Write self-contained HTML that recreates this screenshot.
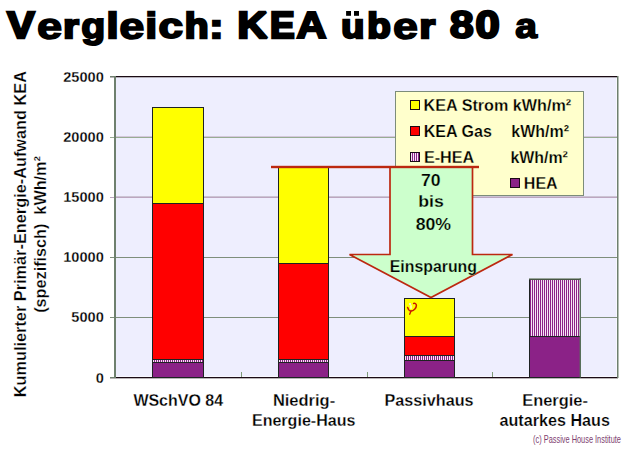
<!DOCTYPE html>
<html><head><meta charset="utf-8"><title>Vergleich: KEA über 80 a</title>
<style>html,body{margin:0;padding:0;background:#fff;width:629px;height:450px;overflow:hidden}
text{font-family:"Liberation Sans", sans-serif}</style></head>
<body><svg width="629" height="450" viewBox="0 0 629 450" style="display:block;font-family:'Liberation Sans', sans-serif"><defs>
<pattern id="vs" patternUnits="userSpaceOnUse" x="0" y="0" width="2" height="4">
<rect width="2" height="4" fill="#F6E6F4"/><rect width="1" height="4" fill="#8B2287"/>
</pattern>
</defs><rect x="115" y="76" width="503" height="302" fill="#EEEEFE"/>
<rect x="116" y="77" width="500" height="1" fill="#F8F8FF"/>
<rect x="116" y="376" width="500" height="1" fill="#F8F8FF"/>
<rect x="616" y="77" width="1" height="300" fill="#F8F8FF"/>
<rect x="110" y="137" width="507" height="1" fill="#98AC94"/>
<rect x="110" y="197" width="507" height="1" fill="#BCA6C0"/>
<rect x="110" y="257" width="507" height="1" fill="#7E8E7C"/>
<rect x="110" y="317" width="507" height="1" fill="#7E8E7C"/>
<rect x="116" y="136" width="501" height="1" fill="#D4C8DC"/>
<rect x="116" y="196" width="501" height="1" fill="#CCC4D4"/>
<rect x="110" y="76" width="508" height="1.3" fill="#1A0A14"/>
<rect x="110" y="377" width="508" height="1.3" fill="#1A0A14"/>
<rect x="110" y="76" width="4" height="1" fill="#6E806E"/>
<rect x="110" y="377" width="4" height="1" fill="#6E806E"/>
<rect x="114" y="76" width="2" height="302" fill="#6E806E"/>
<rect x="617" y="76" width="1.5" height="302" fill="#6E806E"/>
<rect x="241" y="372" width="1" height="5" fill="#7E9A78"/>
<rect x="367" y="372" width="1" height="5" fill="#7E9A78"/>
<rect x="492" y="372" width="1" height="5" fill="#7E9A78"/>
<rect x="152" y="107" width="52" height="97" fill="#FFFF00"/>
<rect x="152" y="203" width="52" height="157" fill="#FF0000"/>
<rect x="152" y="359" width="52" height="4" fill="url(#vs)"/>
<rect x="152" y="362" width="52" height="16" fill="#8B2287"/>
<rect x="152.5" y="107.5" width="51" height="270" fill="none" stroke="#1E2222" stroke-width="1"/>
<rect x="152" y="203" width="52" height="1" fill="#1E2222"/>
<rect x="152" y="359" width="52" height="1" fill="#1E2222"/>
<rect x="152" y="362" width="52" height="1" fill="#1E2222"/>
<rect x="278" y="167" width="51" height="97" fill="#FFFF00"/>
<rect x="278" y="263" width="51" height="97" fill="#FF0000"/>
<rect x="278" y="359" width="51" height="4" fill="url(#vs)"/>
<rect x="278" y="362" width="51" height="16" fill="#8B2287"/>
<rect x="278.5" y="167.5" width="50" height="210" fill="none" stroke="#1E2222" stroke-width="1"/>
<rect x="278" y="263" width="51" height="1" fill="#1E2222"/>
<rect x="278" y="359" width="51" height="1" fill="#1E2222"/>
<rect x="278" y="362" width="51" height="1" fill="#1E2222"/>
<rect x="404" y="298" width="51" height="39" fill="#FFFF00"/>
<rect x="404" y="336" width="51" height="20" fill="#FF0000"/>
<rect x="404" y="355" width="51" height="6" fill="url(#vs)"/>
<rect x="404" y="360" width="51" height="18" fill="#8B2287"/>
<rect x="404.5" y="298.5" width="50" height="79" fill="none" stroke="#1E2222" stroke-width="1"/>
<rect x="404" y="336" width="51" height="1" fill="#1E2222"/>
<rect x="404" y="355" width="51" height="1" fill="#1E2222"/>
<rect x="404" y="360" width="51" height="1" fill="#1E2222"/>
<rect x="529" y="279" width="52" height="58" fill="url(#vs)"/>
<rect x="529" y="336" width="52" height="42" fill="#8B2287"/>
<rect x="529.5" y="279.5" width="51" height="98" fill="none" stroke="#1E2222" stroke-width="1"/>
<rect x="529" y="336" width="52" height="1" fill="#1E2222"/>
<rect x="529" y="278.4" width="52" height="1.2" fill="#64785E"/>
<rect x="579.6" y="278.4" width="1.4" height="99" fill="#58705A"/>
<g fill="none" stroke="#C81800" stroke-linecap="round"><path d="M407.6,307.4 C408.2,309.6 409.4,311 411,311 C413.6,311 416.4,308.2 416.4,305.6 C416.4,303.9 415.2,303.1 413.6,303.4" stroke-width="1.5"/><path d="M410.9,311.2 L409.7,314.2" stroke-width="1.4"/></g><ellipse cx="410" cy="304.1" rx="1.1" ry="1" fill="#F4F0E8"/><ellipse cx="411" cy="307" rx="1.1" ry="2.2" fill="#FFFF9A"/>
<rect x="395.5" y="91.5" width="188" height="104" fill="#FFFFCC" stroke="#7C8C7A" stroke-width="1"/>
<rect x="410.5" y="100.5" width="9" height="9" fill="#FFFF00" stroke="#1A0A14" stroke-width="1"/>
<rect x="410.5" y="126.5" width="9" height="9" fill="#FF0000" stroke="#1A0A14" stroke-width="1"/>
<rect x="410.5" y="152.5" width="9" height="9" fill="url(#vs)" stroke="#1A0A14" stroke-width="1"/>
<rect x="510.5" y="178.5" width="9" height="9" fill="#8B2287" stroke="#1A0A14" stroke-width="1"/>
<text transform="translate(423.62,110.5) scale(1.0106,1)" font-size="16" font-weight="bold" fill="#000" stroke="#FFFFCC" stroke-width="0.25">KEA Strom kWh/m²</text>
<text transform="translate(423.72,136.5) scale(1.0054,1)" font-size="16" font-weight="bold" fill="#000" stroke="#FFFFCC" stroke-width="0.25">KEA Gas</text>
<text transform="translate(423.92,162.5) scale(1.0106,1)" font-size="16" font-weight="bold" fill="#000" stroke="#FFFFCC" stroke-width="0.25">E-HEA</text>
<text transform="translate(523.83,188.5) scale(1.0003,1)" font-size="16" font-weight="bold" fill="#000" stroke="#FFFFCC" stroke-width="0.25">HEA</text>
<text transform="translate(511.28,136.5) scale(0.9996,1)" font-size="16" font-weight="bold" fill="#000" stroke="#FFFFCC" stroke-width="0.25">kWh/m²</text>
<text transform="translate(510.39,162.5) scale(0.9961,1)" font-size="16" font-weight="bold" fill="#000" stroke="#FFFFCC" stroke-width="0.25">kWh/m²</text>
<polygon points="390,167 472.5,167 472.5,254.5 512.5,254.5 431,297.5 349.5,254.5 390,254.5" fill="#CCFFCC" stroke="#BC2810" stroke-width="1.7" stroke-linejoin="miter"/>
<rect x="271" y="165.8" width="208" height="2.4" fill="#BC2810"/>
<text transform="translate(421.04,186.3) scale(1.0354,1)" font-size="17" font-weight="bold" fill="#000" stroke="#CCFFCC" stroke-width="0.25">70</text>
<text transform="translate(418.23,207.2) scale(1.0420,1)" font-size="17" font-weight="bold" fill="#000" stroke="#CCFFCC" stroke-width="0.25">bis</text>
<text transform="translate(415.64,229.6) scale(1.0413,1)" font-size="17" font-weight="bold" fill="#000" stroke="#CCFFCC" stroke-width="0.25">80%</text>
<text transform="translate(389.74,271.5) scale(0.9922,1)" font-size="16" font-weight="bold" fill="#000" stroke="#CCFFCC" stroke-width="0.25">Einsparung</text>
<text transform="translate(103.8,81.5) scale(1.02,1)" font-size="14.3" font-weight="bold" text-anchor="end" fill="#000" stroke="#fff" stroke-width="0.25">25000</text>
<text transform="translate(103.8,141.7) scale(1.02,1)" font-size="14.3" font-weight="bold" text-anchor="end" fill="#000" stroke="#fff" stroke-width="0.25">20000</text>
<text transform="translate(103.8,201.9) scale(1.02,1)" font-size="14.3" font-weight="bold" text-anchor="end" fill="#000" stroke="#fff" stroke-width="0.25">15000</text>
<text transform="translate(103.8,262.1) scale(1.02,1)" font-size="14.3" font-weight="bold" text-anchor="end" fill="#000" stroke="#fff" stroke-width="0.25">10000</text>
<text transform="translate(103.8,322.3) scale(1.02,1)" font-size="14.3" font-weight="bold" text-anchor="end" fill="#000" stroke="#fff" stroke-width="0.25">5000</text>
<text transform="translate(103.8,382.5) scale(1.02,1)" font-size="14.3" font-weight="bold" text-anchor="end" fill="#000" stroke="#fff" stroke-width="0.25">0</text>
<g transform="translate(26,0) rotate(-90)"><text transform="translate(-397.29,0) scale(1.0464,1)" font-size="15.6" font-weight="bold" fill="#000" stroke="#fff" stroke-width="0.25">Kumulierter Primär-Energie-Aufwand KEA</text></g>
<g transform="translate(46,0) rotate(-90)"><text transform="translate(-312.81,0) scale(1.0394,1)" font-size="15.6" font-weight="bold" fill="#000" stroke="#fff" stroke-width="0.25">(spezifisch) &#160;kWh/m²</text></g>
<text transform="translate(133.38,406.3) scale(0.9989,1)" font-size="16" font-weight="bold" fill="#000" stroke="#fff" stroke-width="0.25">WSchVO 84</text>
<text transform="translate(272.90,406.3) scale(1.0301,1)" font-size="16" font-weight="bold" fill="#000" stroke="#fff" stroke-width="0.25">Niedrig-</text>
<text transform="translate(251.92,425.6) scale(1.0048,1)" font-size="16" font-weight="bold" fill="#000" stroke="#fff" stroke-width="0.25">Energie-Haus</text>
<text transform="translate(384.52,406.3) scale(1.0124,1)" font-size="16" font-weight="bold" fill="#000" stroke="#fff" stroke-width="0.25">Passivhaus</text>
<text transform="translate(522.30,406.3) scale(1.0256,1)" font-size="16" font-weight="bold" fill="#000" stroke="#fff" stroke-width="0.25">Energie-</text>
<text transform="translate(499.53,425.6) scale(1.0096,1)" font-size="16" font-weight="bold" fill="#000" stroke="#fff" stroke-width="0.25">autarkes Haus</text>
<text transform="translate(533.04,443) scale(0.7406,1)" font-size="10" font-weight="normal" fill="#7E3E70" >(c) Passive House Institute</text>
<g font-size="36.919" font-weight="bold" fill="#000" stroke="#000" stroke-width="2.6" stroke-linejoin="miter" stroke-miterlimit="2"><text transform="translate(7.26,37.50) scale(1.1078,1.0036)">V</text><text transform="translate(37.05,38.51) scale(1.2262,0.9850)" stroke-width="1.5">e</text><text transform="translate(63.18,37.61) scale(1.0805,0.9162)">r</text><text transform="translate(81.15,38.16) scale(1.0648,0.9560)" stroke-width="2.0">g</text><text transform="translate(106.67,37.56) scale(1.1219,0.9505)">l</text><text transform="translate(119.35,38.51) scale(1.2262,0.9850)" stroke-width="1.5">e</text><text transform="translate(145.83,37.56) scale(1.0697,0.9505)">i</text><text transform="translate(158.57,38.29) scale(1.1895,0.9628)" stroke-width="2.0">c</text><text transform="translate(184.75,37.56) scale(1.0550,0.9505)">h</text><text transform="translate(209.49,37.60) scale(1.1166,0.9228)">:</text><text transform="translate(237.39,37.50) scale(1.1191,1.0000)">K</text><text transform="translate(269.93,37.50) scale(0.9995,1.0000)">E</text><text transform="translate(296.60,37.68) scale(1.1235,1.0145)" stroke-width="2.2">A</text><text transform="translate(341.19,37.79) scale(1.0231,0.9081)">u</text><text transform="translate(367.22,37.71) scale(1.0423,0.9558)">b</text><text transform="translate(392.96,38.51) scale(1.2158,0.9850)" stroke-width="1.5">e</text><text transform="translate(419.47,37.61) scale(1.0877,0.9162)">r</text><text transform="translate(449.70,38.18) scale(1.1718,1.0448)" stroke-width="2.0">8</text><text transform="translate(475.49,37.99) scale(1.1775,1.0302)" stroke-width="2.4">0</text><text transform="translate(515.31,38.09) scale(1.0565,0.9580)" stroke-width="1.8">a</text><rect x="346.1" y="11" width="4.9" height="4.8" stroke="none"/><rect x="354" y="11" width="5" height="4.8" stroke="none"/></g></svg></body></html>
